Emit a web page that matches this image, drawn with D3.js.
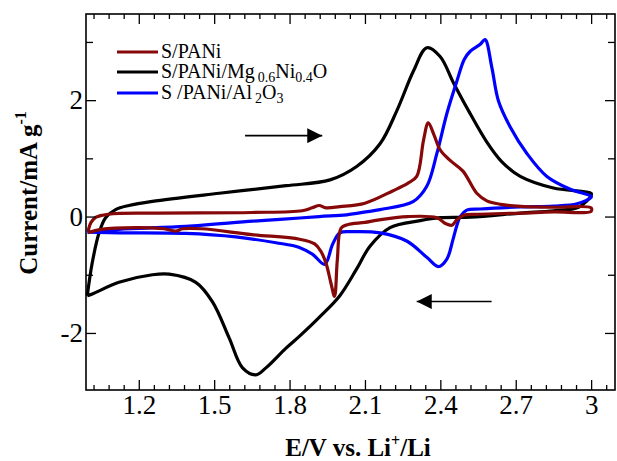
<!DOCTYPE html>
<html>
<head>
<meta charset="utf-8">
<script src="https://cdn.jsdelivr.net/npm/d3@7"></script>
<style>
  body { margin: 0; background: #fff; }
  svg text { font-family: "Liberation Serif", "Times New Roman", serif; }
</style>
</head>
<body>
<div id="chart"></div>
<script>
// chart size, same as the picture
const width = 617;
const height = 461;
const margin = {left: 86, right: 2, top: 14, bottom: 71};

// axis ticks
const xMajor = [1.2, 1.5, 1.8, 2.1, 2.4, 2.7, 3.0];
const xLabels = ["1.2", "1.5", "1.8", "2.1", "2.4", "2.7", "3"];
const yMajor = [-2, 0, 2];
const yLabels = ["-2", "0", "2"];
const yMinor = [-1, 1, 3];

// series names and colours
const seriesNames = ["S/PANi", "S/PANi/Mg0.6Ni0.4O", "S /PANi/Al2O3"];
const seriesColors = ["#870808", "#000000", "#0000ff"];

// S/PANi  [E (V), I (mA/g)] anodic then cathodic sweep
const panAnodic = [
  [0.998, -0.26], [1.01, -0.1], [1.03, -0.01], [1.08, 0.04], [1.25, 0.06], [1.65, 0.07],
  [1.85, 0.1], [1.89, 0.15], [1.918, 0.19], [1.945, 0.15], [2.0, 0.17], [2.1, 0.23],
  [2.21, 0.44], [2.27, 0.57], [2.306, 0.69], [2.333, 1.31], [2.352, 1.61], [2.375, 1.4],
  [2.40, 1.14], [2.44, 0.96], [2.49, 0.78], [2.545, 0.40], [2.585, 0.27], [2.64, 0.21],
  [2.72, 0.175], [2.85, 0.16], [3.0, 0.15]
];
const panCathodic = [
  [3.0, 0.09], [2.85, 0.08], [2.72, 0.06], [2.55, 0.04], [2.49, 0.02], [2.465, -0.06],
  [2.446, -0.15], [2.42, -0.12], [2.386, -0.02], [2.27, 0.0], [2.15, -0.06], [2.1, -0.1],
  [2.03, -0.14], [2.005, -0.2], [1.99, -0.75], [1.979, -1.37], [1.965, -1.15],
  [1.945, -0.8], [1.925, -0.6], [1.9, -0.47], [1.84, -0.39], [1.65, -0.31], [1.45, -0.21],
  [1.375, -0.21], [1.347, -0.25], [1.3, -0.21], [1.19, -0.19], [1.05, -0.22], [0.998, -0.28]
];

// S/PANi/Mg0.6Ni0.4O
const mgAnodic = [
  [0.995, -1.36], [1.015, -0.79], [1.042, -0.28], [1.068, -0.02], [1.108, 0.12],
  [1.161, 0.19], [1.254, 0.26], [1.52, 0.40], [1.786, 0.53], [1.961, 0.63], [2.067, 0.86],
  [2.16, 1.25], [2.227, 1.82], [2.293, 2.50], [2.346, 2.90], [2.399, 2.75], [2.452, 2.30],
  [2.512, 1.82], [2.585, 1.28], [2.645, 0.94], [2.718, 0.69], [2.85, 0.49], [3.0, 0.40]
];
const mgCathodic = [
  [3.0, 0.36], [2.95, 0.16], [2.85, 0.10], [2.72, 0.06], [2.52, -0.01], [2.4, -0.02],
  [2.32, -0.07], [2.2, -0.19], [2.12, -0.51], [2.067, -0.90], [2.0, -1.36], [1.921, -1.72],
  [1.841, -2.05], [1.786, -2.26], [1.706, -2.60], [1.666, -2.72], [1.613, -2.60],
  [1.56, -2.09], [1.494, -1.47], [1.427, -1.13], [1.321, -0.99], [1.254, -1.0],
  [1.121, -1.13], [1.015, -1.33], [0.995, -1.36]
];

// S /PANi/Al2O3
const alAnodic = [
  [0.995, -0.27], [1.121, -0.22], [1.387, -0.17], [1.653, -0.08], [1.762, -0.05],
  [1.918, 0.0], [2.027, 0.03], [2.104, 0.08], [2.16, 0.12], [2.293, 0.26], [2.346, 0.52],
  [2.386, 1.08], [2.426, 1.77], [2.466, 2.33], [2.495, 2.7], [2.519, 2.84], [2.559, 2.96],
  [2.578, 3.04], [2.605, 2.56], [2.631, 1.99], [2.678, 1.54], [2.745, 1.08], [2.824, 0.69],
  [2.917, 0.47], [3.0, 0.35]
];
const alCathodic = [
  [3.0, 0.33], [2.944, 0.22], [2.85, 0.18], [2.718, 0.165], [2.559, 0.13], [2.505, 0.11],
  [2.479, 0.0], [2.466, -0.15], [2.45, -0.4], [2.426, -0.73], [2.392, -0.86],
  [2.346, -0.70], [2.266, -0.42], [2.16, -0.28], [2.05, -0.26], [2.0, -0.28],
  [1.971, -0.48], [1.94, -0.82], [1.892, -0.65], [1.839, -0.53], [1.746, -0.45],
  [1.586, -0.35], [1.387, -0.29], [1.121, -0.28], [0.995, -0.27]
];

const loops = [
  {name: seriesNames[1], color: seriesColors[1], pts: mgAnodic.concat(mgCathodic)},
  {name: seriesNames[2], color: seriesColors[2], pts: alAnodic.concat(alCathodic)},
  {name: seriesNames[0], color: seriesColors[0], pts: panAnodic.concat(panCathodic)}
];

const svg = d3.select("#chart")
  .append("svg")
  .attr("width", width)
  .attr("height", height);

const x = d3.scaleLinear()
  .domain([0.99, 3.095])
  .range([margin.left, width - margin.right]);

const y = d3.scaleLinear()
  .domain([-2.98, 3.48])
  .range([height - margin.bottom, margin.top]);

const xMinor = d3.range(1.02, 3.07, 0.06)
  .filter(v => !xMajor.some(m => Math.abs(m - v) < 0.001));

// the curves
const line = d3.line()
  .x(d => x(d[0]))
  .y(d => y(d[1]))
  .curve(d3.curveCatmullRom.alpha(0.5));

svg.append("g")
  .selectAll("path")
  .data(loops)
  .join("path")
    .attr("d", d => line(d.pts))
    .attr("fill", "none")
    .attr("stroke", d => d.color)
    .attr("stroke-width", 3.2)
    .attr("stroke-linejoin", "round");

// axes, ticks pointing into the plot
const bottom = height - margin.bottom;
const right = width - margin.right;

svg.append("g")
  .attr("transform", `translate(0,${bottom})`)
  .call(d3.axisBottom(x).tickValues(xMajor).tickSizeInner(-10).tickSizeOuter(0)
    .tickPadding(5).tickFormat((d, i) => xLabels[i]))
  .attr("font-size", 27);

svg.append("g")
  .attr("transform", `translate(0,${bottom})`)
  .call(d3.axisBottom(x).tickValues(xMinor).tickSizeInner(-5).tickSizeOuter(0).tickFormat(""));

svg.append("g")
  .attr("transform", `translate(0,${margin.top})`)
  .call(d3.axisTop(x).tickValues(xMajor).tickSizeInner(-10).tickSizeOuter(0).tickFormat(""));

svg.append("g")
  .attr("transform", `translate(0,${margin.top})`)
  .call(d3.axisTop(x).tickValues(xMinor).tickSizeInner(-5).tickSizeOuter(0).tickFormat(""));

svg.append("g")
  .attr("transform", `translate(${margin.left},0)`)
  .call(d3.axisLeft(y).tickValues(yMajor).tickSizeInner(-10).tickSizeOuter(0)
    .tickPadding(3).tickFormat((d, i) => yLabels[i]))
  .attr("font-size", 27);

svg.append("g")
  .attr("transform", `translate(${margin.left},0)`)
  .call(d3.axisLeft(y).tickValues(yMinor).tickSizeInner(-7).tickSizeOuter(0).tickFormat(""));

svg.append("g")
  .attr("transform", `translate(${right},0)`)
  .call(d3.axisRight(y).tickValues(yMajor).tickSizeInner(-10).tickSizeOuter(0).tickFormat(""));

svg.append("g")
  .attr("transform", `translate(${right},0)`)
  .call(d3.axisRight(y).tickValues(yMinor).tickSizeInner(-7).tickSizeOuter(0).tickFormat(""));

svg.selectAll(".domain").remove();
svg.selectAll(".tick line").attr("stroke", "#000").attr("stroke-width", 1.3);
svg.selectAll(".tick text").attr("fill", "#000")
  .style("font-family", "'Liberation Serif', 'Times New Roman', serif");

// frame
svg.append("rect")
  .attr("x", margin.left)
  .attr("y", margin.top)
  .attr("width", right - margin.left)
  .attr("height", bottom - margin.top)
  .attr("fill", "none")
  .attr("stroke", "#000")
  .attr("stroke-width", 1.6);

// axis titles
const xTitle = svg.append("text")
  .attr("x", 358)
  .attr("y", 456)
  .attr("text-anchor", "middle")
  .attr("font-size", 25)
  .attr("font-weight", "bold");
xTitle.append("tspan").text("E/V vs. Li");
xTitle.append("tspan").attr("dy", -10).attr("font-size", 16).text("+");
xTitle.append("tspan").attr("dy", 10).text("/Li");

const yTitle = svg.append("text")
  .attr("transform", "translate(37,193) rotate(-90)")
  .attr("text-anchor", "middle")
  .attr("font-size", 25)
  .attr("font-weight", "bold");
yTitle.append("tspan").text("Current/mA g");
yTitle.append("tspan").attr("dy", -11).attr("font-size", 16).text("-1");

// legend
const legendY = [52, 72, 93];
const legendOrder = [0, 1, 2];
const legend = svg.append("g");
legend.selectAll("line")
  .data(legendOrder)
  .join("line")
    .attr("x1", 117)
    .attr("x2", 158)
    .attr("y1", (d, i) => legendY[i])
    .attr("y2", (d, i) => legendY[i])
    .attr("stroke", d => seriesColors[d])
    .attr("stroke-width", 3.2);

const lt0 = legend.append("text").attr("x", 161).attr("y", legendY[0] + 6).attr("font-size", 20);
lt0.text("S/PANi");

const lt1 = legend.append("text").attr("x", 161).attr("y", legendY[1] + 6).attr("font-size", 20);
lt1.append("tspan").text("S/PANi/Mg");
lt1.append("tspan").attr("dx", 3).attr("dy", 4).attr("font-size", 14).text("0.6");
lt1.append("tspan").attr("dy", -4).text("Ni");
lt1.append("tspan").attr("dy", 4).attr("font-size", 14).text("0.4");
lt1.append("tspan").attr("dy", -4).text("O");

const lt2 = legend.append("text").attr("x", 161).attr("y", legendY[2] + 6).attr("font-size", 20);
lt2.append("tspan").text("S /PANi/Al");
lt2.append("tspan").attr("dx", 3).attr("dy", 4).attr("font-size", 14).text("2");
lt2.append("tspan").attr("dy", -4).text("O");
lt2.append("tspan").attr("dy", 4).attr("font-size", 14).text("3");

// sweep direction arrows, placed in data units
const arrows = [
  {from: [1.623, 1.39], to: [1.93, 1.39]},
  {from: [2.604, -1.46], to: [2.306, -1.46]}
];
svg.append("defs").append("marker")
  .attr("id", "head")
  .attr("viewBox", "0 0 10 10")
  .attr("refX", 10)
  .attr("refY", 5)
  .attr("markerUnits", "userSpaceOnUse")
  .attr("markerWidth", 31)
  .attr("markerHeight", 15)
  .attr("orient", "auto")
  .append("path")
    .attr("d", "M0,0L10,5L0,10Z")
    .attr("fill", "#000");

svg.selectAll(".arrow")
  .data(arrows)
  .join("line")
    .attr("class", "arrow")
    .attr("x1", d => x(d.from[0]))
    .attr("y1", d => y(d.from[1]))
    .attr("x2", d => x(d.to[0]))
    .attr("y2", d => y(d.to[1]))
    .attr("stroke", "#000")
    .attr("stroke-width", 1.6)
    .attr("marker-end", "url(#head)");
</script>
</body>
</html>
